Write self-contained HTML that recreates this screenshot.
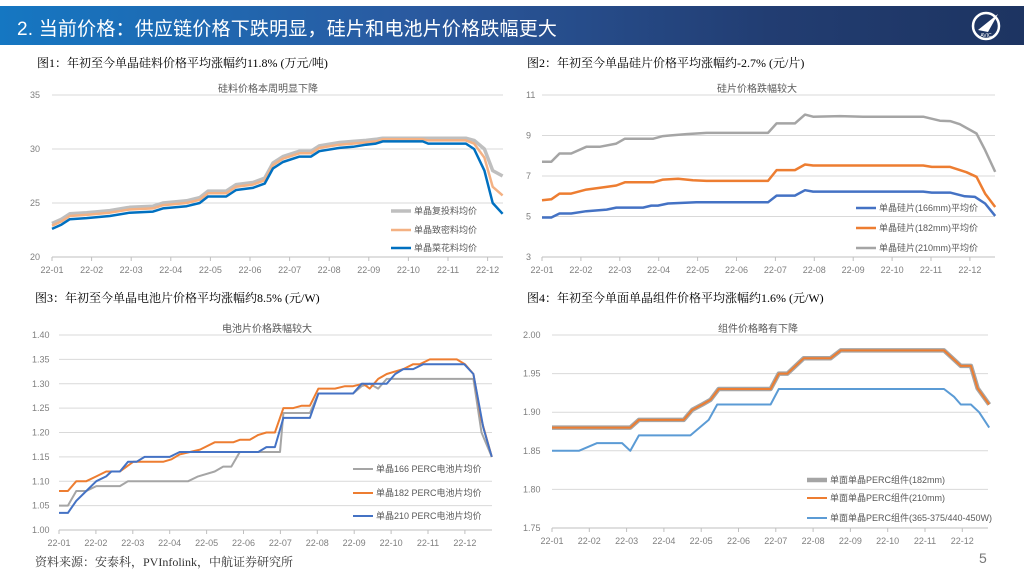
<!DOCTYPE html>
<html><head><meta charset="utf-8">
<style>
body{margin:0;width:1024px;height:576px;background:#fff;overflow:hidden;position:relative;font-family:"Liberation Serif","Noto Serif CJK SC",serif}
#hdr{position:absolute;left:0;top:6px;width:1024px;height:39px;background:linear-gradient(90deg,#1577c2 0%,#2a5aa0 40%,#223d72 75%,#1d3461 100%)}
#hdr .t{position:absolute;left:17px;top:8px;color:#fff;font:19px "Liberation Sans","Noto Sans CJK SC",sans-serif;letter-spacing:0.2px}
.cap{position:absolute;font-size:12px;color:#000;font-family:"Liberation Serif","Noto Serif CJK SC",serif}
svg text{font-family:"Liberation Sans","Noto Sans CJK SC",sans-serif}
</style></head><body>
<div id="hdr"><div class="t">2. 当前价格：供应链价格下跌明显，硅片和电池片价格跌幅更大</div>
<svg style="position:absolute;left:970px;top:4px" width="32" height="32"><circle cx="16" cy="16" r="13" fill="none" stroke="#fff" stroke-width="2.5"/><path d="M8 20 L28 4 L18 22 Z" fill="#fff"/><text x="16" y="27" font-size="5" fill="#fff" text-anchor="middle">AVIC</text></svg>
</div>
<div class="cap" style="left:37px;top:54px">图1：年初至今单晶硅料价格平均涨幅约11.8% (万元/吨)</div>
<div class="cap" style="left:527px;top:54px">图2：年初至今单晶硅片价格平均涨幅约-2.7% (元/片)</div>
<div class="cap" style="left:35px;top:289px">图3：年初至今单晶电池片价格平均涨幅约8.5% (元/W)</div>
<div class="cap" style="left:527px;top:289px">图4：年初至今单面单晶组件价格平均涨幅约1.6% (元/W)</div>
<div class="cap" style="left:35px;top:553px;color:#333">资料来源：安泰科，PVInfolink，中航证券研究所</div>
<div style="position:absolute;left:979px;top:550px;font:14px 'Liberation Sans',sans-serif;color:#777">5</div>
<svg id="sv" width="1024" height="576" style="position:absolute;left:0;top:0"></svg>
<script>
const months=["22-01","22-02","22-03","22-04","22-05","22-06","22-07","22-08","22-09","22-10","22-11","22-12"];
// chart 1
const c1Ticks=[20,25,30,35];
const c1T=[0,0.24,0.45,0.87,1.46,1.96,2.55,2.8,3.4,3.73,3.94,4.4,4.65,5.07,5.37,5.58,5.83,6.25,6.54,6.75,7.26,7.6,7.93,8.18,8.35,9.36,9.5,10.45,10.66,10.92,11.13,11.38];
const c1Gray=[23.1,23.5,24.0,24.1,24.3,24.6,24.7,25.0,25.2,25.5,26.1,26.1,26.7,26.9,27.3,28.7,29.3,29.8,29.8,30.3,30.6,30.7,30.8,30.9,31.0,31.0,31.0,31.0,30.8,30.0,28.0,27.5];
const c1Orange=[22.9,23.3,23.8,23.9,24.1,24.4,24.5,24.8,25.0,25.3,25.9,25.9,26.5,26.7,27.1,28.5,29.1,29.6,29.6,30.1,30.4,30.5,30.6,30.7,30.9,30.9,30.8,30.8,30.5,29.2,26.5,25.7];
const c1Blue=[22.6,23.0,23.5,23.6,23.8,24.1,24.2,24.5,24.7,25.0,25.6,25.6,26.2,26.4,26.8,28.2,28.8,29.3,29.3,29.8,30.1,30.2,30.4,30.5,30.7,30.7,30.5,30.5,30.0,28.0,25.0,24.0];
// chart 2
const c2Ticks=[3,5,7,9,11];
const c2BlueT=[0,0.24,0.45,0.75,1.14,1.66,1.91,2.6,2.81,2.98,3.24,3.97,5.81,6.03,6.5,6.76,6.97,9.8,10.02,10.49,10.87,11.13,11.39,11.65];
const c2Blue=[4.95,4.95,5.15,5.15,5.26,5.34,5.44,5.44,5.54,5.54,5.64,5.7,5.7,6.03,6.03,6.3,6.23,6.23,6.18,6.18,6.0,5.97,5.64,5.03];
const c2OrangeT=[0,0.24,0.45,0.75,1.14,1.66,1.91,2.13,2.86,3.11,3.5,3.88,4.23,5.81,6.03,6.5,6.76,6.97,9.8,10.02,10.49,10.91,11.17,11.39,11.65];
const c2Orange=[5.8,5.85,6.13,6.13,6.33,6.46,6.53,6.69,6.69,6.82,6.86,6.79,6.76,6.76,7.29,7.29,7.57,7.52,7.52,7.45,7.45,7.19,6.96,6.13,5.47];
const c2GrayT=[0,0.24,0.45,0.75,1.14,1.48,1.91,2.13,2.86,3.11,3.28,3.71,4.23,5.81,6.03,6.5,6.76,6.97,7.66,8.26,9.8,10.23,10.49,10.74,11.17,11.39,11.65];
const c2Gray=[7.7,7.7,8.11,8.11,8.44,8.44,8.6,8.84,8.84,8.97,9.0,9.07,9.13,9.13,9.6,9.6,10.03,9.93,9.96,9.93,9.93,9.73,9.71,9.56,9.1,8.28,7.2];
// chart 3
const c3Ticks=[1.00,1.05,1.10,1.15,1.20,1.25,1.30,1.35,1.40];
const c3OrangeT=[0,0.24,0.47,0.74,1.01,1.28,1.65,2.01,2.82,3.05,3.27,3.55,3.82,4.22,4.72,4.9,5.17,5.4,5.62,5.85,6.08,6.35,6.58,6.8,7.03,7.48,7.75,7.97,8.24,8.42,8.65,8.88,9.33,9.6,9.78,10.05,10.78,11.0,11.23,11.45,11.73];
const c3Orange=[1.08,1.08,1.10,1.10,1.11,1.12,1.12,1.14,1.14,1.145,1.155,1.16,1.165,1.18,1.18,1.185,1.185,1.195,1.20,1.20,1.25,1.25,1.255,1.255,1.29,1.29,1.295,1.295,1.30,1.29,1.31,1.32,1.33,1.34,1.34,1.35,1.35,1.34,1.32,1.225,1.15];
const c3BlueT=[0,0.24,0.47,0.74,1.01,1.28,1.42,1.65,1.87,2.1,2.32,3.0,3.27,5.4,5.62,5.85,6.08,6.8,7.03,7.97,8.2,8.88,9.11,9.33,9.6,9.87,10.98,11.23,11.5,11.73];
const c3Blue=[1.035,1.035,1.06,1.08,1.10,1.11,1.12,1.12,1.14,1.14,1.15,1.15,1.16,1.16,1.17,1.17,1.23,1.23,1.28,1.28,1.30,1.30,1.32,1.33,1.33,1.34,1.34,1.32,1.21,1.15];
const c3GrayT=[0,0.24,0.47,0.74,1.01,1.65,1.87,3.5,3.77,4.22,4.45,4.67,4.9,5.99,6.08,6.8,7.03,7.97,8.2,8.42,8.65,8.88,11.23,11.45,11.73];
const c3Gray=[1.05,1.05,1.08,1.08,1.09,1.09,1.10,1.10,1.11,1.12,1.13,1.13,1.16,1.16,1.24,1.24,1.28,1.28,1.295,1.30,1.29,1.31,1.31,1.20,1.15];
// chart 4
const c4Ticks=[1.75,1.80,1.85,1.90,1.95,2.00];
const c4T=[0,2.1,2.33,3.53,3.76,4.03,4.25,4.47,5.86,6.08,6.31,6.75,7.47,7.74,10.51,10.96,11.23,11.41,11.72];
const c4Gray=[1.88,1.88,1.89,1.89,1.903,1.91,1.916,1.93,1.93,1.95,1.95,1.97,1.97,1.98,1.98,1.96,1.96,1.931,1.91];
const c4Orange=[1.88,1.88,1.89,1.89,1.903,1.91,1.916,1.93,1.93,1.95,1.95,1.97,1.97,1.98,1.98,1.96,1.96,1.931,1.91];
const c4BlueT=[0,0.72,1.21,1.88,2.1,2.33,3.71,4.2,4.43,5.86,6.08,10.51,10.78,10.96,11.23,11.45,11.72];
const c4Blue=[1.85,1.85,1.86,1.86,1.85,1.87,1.87,1.89,1.91,1.91,1.93,1.93,1.92,1.91,1.91,1.90,1.88];

const NS="http://www.w3.org/2000/svg";
const sv=document.getElementById('sv');
function mk(tag,at,parent){const e=document.createElementNS(NS,tag);for(const k in at)e.setAttribute(k,at[k]);(parent||sv).appendChild(e);return e;}

function chart(cfg){
  const g=mk('g',{});
  
  
  const X=t=>cfg.x0+t*cfg.dx;
  const Y=v=>cfg.yTop+(cfg.vMax-v)/(cfg.vMax-cfg.vMin)*(cfg.yBot-cfg.yTop);
  cfg.ticks.forEach(v=>{
    const ln=mk('line',{x1:cfg.x0,x2:cfg.xEnd,y1:Y(v),y2:Y(v),stroke:'#d9d9d9','stroke-width':1},g);
    
    
    const tx=mk('text',{x:cfg.x0-cfg.lblOff,y:Y(v)+3,'font-size':9,fill:'#7f7f7f','text-anchor':'start'},g);
    tx.textContent=cfg.fmt(v);
    
    
  });
  const ax=mk('line',{x1:cfg.x0,x2:cfg.xEnd,y1:cfg.yBot,y2:cfg.yBot,stroke:'#bfbfbf'},g);
  
  
  months.forEach((m,i)=>{
    const tk=mk('line',{x1:X(i),x2:X(i),y1:cfg.yBot,y2:cfg.yBot+4,stroke:'#bfbfbf'},g);
    
    
    const tx=mk('text',{x:X(i),y:cfg.yBot+16,'font-size':9,fill:'#7f7f7f','text-anchor':'middle'},g);
    tx.textContent=m;
    
    
  });
  const tt=mk('text',{x:cfg.titleX,y:cfg.yTop-3,'font-size':10,fill:'#595959','text-anchor':'middle'},g);
  tt.textContent=cfg.title;
  
  
  cfg.series.forEach((s,i)=>{
    const pts=s.t.map((t,j)=>X(t).toFixed(1)+','+Y(s.v[j]).toFixed(1)).join(' ');
    const pl=mk('polyline',{points:pts,fill:'none',stroke:s.c,'stroke-width':s.w,'stroke-linejoin':'round'},g);
    
    
  });
  cfg.series.forEach((s,i)=>{
    const ly=cfg.legY[i];
    const ll=mk('line',{x1:cfg.legX,x2:cfg.legX+20,y1:ly,y2:ly,stroke:s.c,'stroke-width':s.w},g);
    
    
    const lt=mk('text',{x:cfg.legX+23,y:ly+3,'font-size':9,fill:'#595959'},g);
    lt.textContent=s.n;
    
    
  });
}
chart({name:'chart-silicon-material',x0:52,dx:39.6,xEnd:503,yTop:95,yBot:257,vMin:20,vMax:35,ticks:c1Ticks,fmt:v=>String(v),lblOff:22,
  title:'硅料价格本周明显下降',titleX:268,legX:391,legY:[211,230,248],
  series:[{n:'单晶复投料均价',t:c1T,v:c1Gray,c:'#bfbfbf',w:3.5},{n:'单晶致密料均价',t:c1T,v:c1Orange,c:'#f4b183',w:2.5},{n:'单晶菜花料均价',t:c1T,v:c1Blue,c:'#0070c0',w:2.5}]});
chart({name:'chart-wafer',x0:542,dx:38.9,xEnd:995,yTop:95,yBot:257,vMin:3,vMax:11,ticks:c2Ticks,fmt:v=>String(v),lblOff:16,
  title:'硅片价格跌幅较大',titleX:757,legX:856,legY:[208,228,248],
  series:[{n:'单晶硅片(166mm)平均价',t:c2BlueT,v:c2Blue,c:'#4472c4',w:2.5},{n:'单晶硅片(182mm)平均价',t:c2OrangeT,v:c2Orange,c:'#ed7d31',w:2.5},{n:'单晶硅片(210mm)平均价',t:c2GrayT,v:c2Gray,c:'#a5a5a5',w:2.5}]});
chart({name:'chart-cell',x0:59,dx:36.9,xEnd:492,yTop:335,yBot:530,vMin:1.0,vMax:1.4,ticks:c3Ticks,fmt:v=>v.toFixed(2),lblOff:27,
  title:'电池片价格跌幅较大',titleX:267,legX:353,legY:[469,493,516],
  series:[{n:'单晶166 PERC电池片均价',t:c3GrayT,v:c3Gray,c:'#a5a5a5',w:2},{n:'单晶182 PERC电池片均价',t:c3OrangeT,v:c3Orange,c:'#ed7d31',w:2},{n:'单晶210 PERC电池片均价',t:c3BlueT,v:c3Blue,c:'#4472c4',w:2}]});
chart({name:'chart-module',x0:552,dx:37.3,xEnd:988,yTop:335,yBot:528,vMin:1.75,vMax:2.0,ticks:c4Ticks,fmt:v=>v.toFixed(2),lblOff:29,
  title:'组件价格略有下降',titleX:758,legX:807,legY:[480,498,518],
  series:[{n:'单面单晶PERC组件(182mm)',t:c4T,v:c4Gray,c:'#a5a5a5',w:4.5},{n:'单面单晶PERC组件(210mm)',t:c4T,v:c4Orange,c:'#ed7d31',w:2},{n:'单面单晶PERC组件(365-375/440-450W)',t:c4BlueT,v:c4Blue,c:'#5b9bd5',w:2}]});
</script>
</body></html>
